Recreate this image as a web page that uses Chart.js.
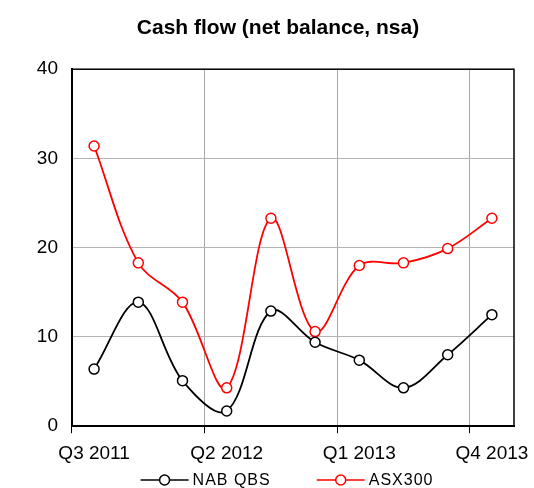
<!DOCTYPE html>
<html>
<head>
<meta charset="utf-8">
<script src="https://cdn.jsdelivr.net/npm/chart.js@4.4.1/dist/chart.umd.min.js"></script>
<style>
  html, body { margin: 0; padding: 0; background: #fff; }
  #wrap { width: 534px; height: 488px; }
</style>
</head>
<body>
<div id="wrap"><canvas id="chart"></canvas></div>
<script>
const quarters = ["Q3 2011", "Q4 2011", "Q1 2012", "Q2 2012", "Q3 2012", "Q4 2012", "Q1 2013", "Q2 2013", "Q3 2013", "Q4 2013"];
const nabQbs = [6.4, 13.9, 5.1, 1.7, 12.9, 9.4, 7.4, 4.3, 8.0, 12.5];
const asx300 = [31.4, 18.3, 13.9, 4.3, 23.3, 10.6, 18.0, 18.3, 19.9, 23.3];
const yTicks = [0, 10, 20, 30, 40];

const FONT = "'Liberation Sans', Arial, sans-serif";
Chart.defaults.color = "#000";
Chart.defaults.font.family = FONT;

// black frame round the plot area
const plotFrame = {
  id: "plotFrame",
  beforeDatasetsDraw(chart) {
    const { ctx, chartArea: a } = chart;
    ctx.save();
    ctx.strokeStyle = "#000";
    ctx.lineWidth = 1.5;
    ctx.strokeRect(a.left, a.top, a.right - a.left, a.bottom - a.top);
    ctx.restore();
  },
};

// legend with a line-and-marker sample for each series
const lineLegend = {
  id: "lineLegend",
  afterDraw(chart) {
    const ctx = chart.ctx;
    ctx.save();
    ctx.font = "16px " + FONT;
    ctx.letterSpacing = "1px";
    const lineW = 48, gap = 4, spacing = 46;
    const items = chart.data.datasets.map((ds) => ({ ds, w: ctx.measureText(ds.label).width }));
    const total = items.reduce((s, it) => s + lineW + gap + it.w, 0) + spacing * (items.length - 1);
    let x = chart.width / 2 + 20 - total / 2;
    const y = 480;
    items.forEach(({ ds, w }) => {
      ctx.strokeStyle = ds.borderColor;
      ctx.lineWidth = 1.5;
      ctx.beginPath();
      ctx.moveTo(x, y);
      ctx.lineTo(x + lineW, y);
      ctx.stroke();
      ctx.beginPath();
      ctx.arc(x + lineW / 2, y, 5, 0, Math.PI * 2);
      ctx.fillStyle = "#fff";
      ctx.fill();
      ctx.stroke();
      ctx.fillStyle = "#000";
      ctx.textBaseline = "middle";
      ctx.textAlign = "left";
      ctx.fillText(ds.label, x + lineW + gap, y + 1);
      x += lineW + gap + w + spacing;
    });
    ctx.restore();
  },
};

function series(label, data, color) {
  return {
    label,
    data,
    borderColor: color,
    borderWidth: 1.8,
    tension: 0.35,
    pointRadius: 5,
    pointBorderWidth: 1.5,
    pointBackgroundColor: "#fff",
    pointBorderColor: color,
  };
}

new Chart(document.getElementById("chart"), {
  type: "line",
  data: {
    labels: quarters,
    datasets: [series("NAB QBS", nabQbs, "#000"), series("ASX300", asx300, "#ff0000")],
  },
  plugins: [plotFrame, lineLegend],
  options: {
    responsive: true,
    maintainAspectRatio: false,
    animation: false,
    layout: { padding: { left: 22, right: 0, top: 0, bottom: 14 } },
    plugins: {
      legend: { display: false },
      tooltip: { enabled: false },
      title: {
        display: true,
        text: "Cash flow (net balance, nsa)",
        font: { size: 21, weight: "bold", lineHeight: 1.2 },
        padding: { top: 16, bottom: 28 },
      },
    },
    scales: {
      x: {
        offset: true,
        // end labels may hang past the plot edges
        afterFit: (s) => { s.paddingLeft = 0; s.paddingRight = 0; },
        grid: {
          offset: true,
          tickLength: 7,
          lineWidth: 1,
          color: (c) => (c.index % 3 === 0 && c.index > 0 && c.index < quarters.length ? "#a6a6a6" : "rgba(0,0,0,0)"),
          tickColor: (c) => (c.index % 3 === 0 && c.index < quarters.length ? "#000" : "rgba(0,0,0,0)"),
        },
        border: { color: "#000", width: 2 },
        ticks: {
          autoSkip: false,
          maxRotation: 0,
          padding: 9,
          font: { size: 19 },
          callback: (v, i) => (i % 3 === 0 ? quarters[i] : ""),
        },
      },
      y: {
        min: yTicks[0],
        max: yTicks[yTicks.length - 1],
        afterBuildTicks: (s) => { s.ticks = yTicks.map((v) => ({ value: v })); },
        afterFit: (s) => { s.width = 50; },
        grid: { color: "#b3b3b3", lineWidth: 1, drawTicks: false },
        border: { color: "#000", width: 2 },
        ticks: { padding: 14, font: { size: 19 } },
      },
      yRight: {
        position: "right",
        min: 0,
        max: 40,
        afterFit: (s) => { s.width = 20; },
        grid: { display: false },
        border: { display: false },
        ticks: { display: false },
      },
    },
  },
});
</script>
</body>
</html>
